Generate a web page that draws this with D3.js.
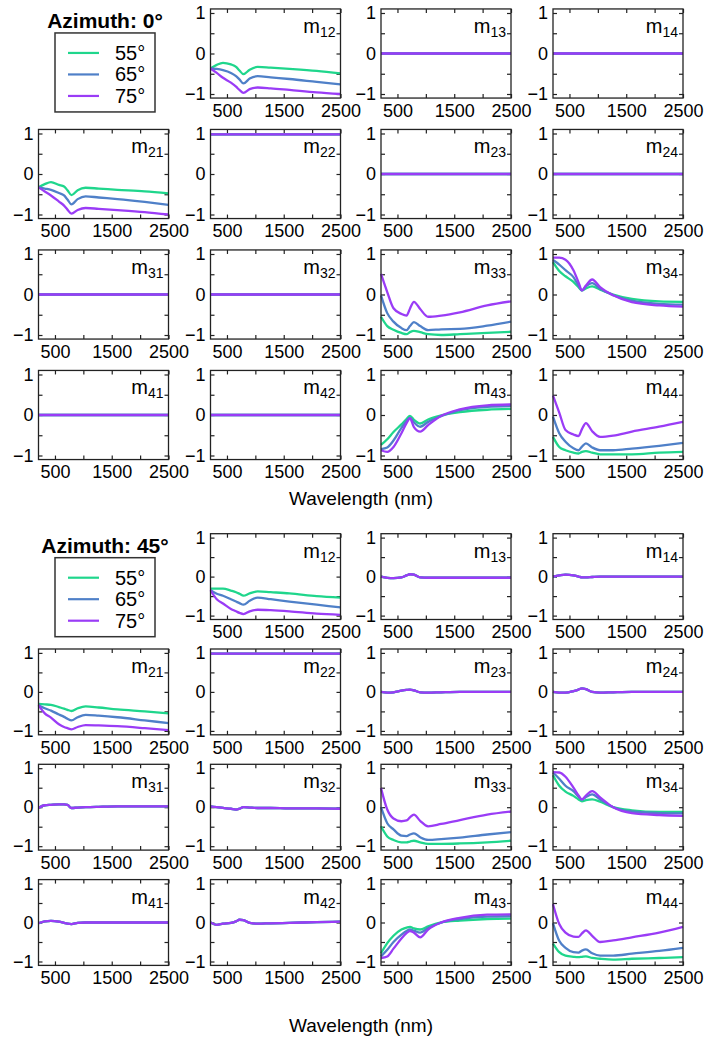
<!DOCTYPE html>
<html>
<head>
<meta charset="utf-8">
<script src="https://cdn.jsdelivr.net/npm/d3@7"></script>
<style>
  body { margin: 0; background: #fff; }
  text { font-family: "Liberation Sans", Arial, sans-serif; fill: #000; }
</style>
</head>
<body>
<svg width="711" height="1043"></svg>
<script>
const wl = [210, 320, 430, 570, 660, 720, 790, 900, 1040, 1270, 1600, 2080, 2500];
const angles = ["55°", "65°", "75°"];
const colors = ["#1fd68c", "#4f80c8", "#9a3cf6"];

const flat0 = [0, 0, 0, 0, 0, 0, 0, 0, 0, 0, 0, 0, 0];
const flat1 = [0.98, 0.98, 0.98, 0.98, 0.98, 0.98, 0.98, 0.98, 0.98, 0.98, 0.98, 0.98, 0.98];

// ---- azimuth 0 deg : [55, 65, 75] ----
const a0_m12 = [
  [-0.37, -0.28, -0.23, -0.27, -0.33, -0.42, -0.51, -0.40, -0.33, -0.35, -0.38, -0.43, -0.49],
  [-0.37, -0.38, -0.41, -0.48, -0.56, -0.64, -0.74, -0.62, -0.56, -0.59, -0.63, -0.70, -0.76],
  [-0.37, -0.48, -0.60, -0.72, -0.82, -0.90, -0.97, -0.88, -0.84, -0.86, -0.90, -0.96, -1.00]];
const a0_m21 = [
  [-0.33, -0.25, -0.20, -0.27, -0.31, -0.40, -0.52, -0.40, -0.34, -0.36, -0.39, -0.43, -0.48],
  [-0.33, -0.36, -0.39, -0.47, -0.53, -0.63, -0.75, -0.62, -0.55, -0.58, -0.62, -0.69, -0.76],
  [-0.33, -0.43, -0.53, -0.68, -0.78, -0.88, -0.98, -0.89, -0.84, -0.86, -0.89, -0.94, -1.00]];
const a0_m33 = [
  [-0.55, -0.78, -0.87, -0.95, -0.98, -0.93, -0.90, -0.93, -0.98, -1.00, -0.98, -0.95, -0.92],
  [-0.02, -0.46, -0.67, -0.83, -0.88, -0.78, -0.68, -0.78, -0.88, -0.86, -0.85, -0.77, -0.67],
  [0.51, 0.06, -0.34, -0.48, -0.52, -0.35, -0.18, -0.36, -0.55, -0.52, -0.44, -0.27, -0.17]];
const a0_m34 = [
  [0.80, 0.58, 0.45, 0.31, 0.18, 0.10, 0.15, 0.20, 0.12, 0.00, -0.11, -0.17, -0.18],
  [0.85, 0.74, 0.60, 0.43, 0.22, 0.10, 0.20, 0.28, 0.14, -0.02, -0.15, -0.23, -0.25],
  [0.91, 0.91, 0.86, 0.60, 0.30, 0.10, 0.22, 0.37, 0.18, -0.02, -0.19, -0.27, -0.30]];
const a0_m43 = [
  [-0.74, -0.60, -0.42, -0.23, -0.10, -0.02, -0.12, -0.21, -0.11, -0.01, 0.07, 0.13, 0.15],
  [-0.84, -0.80, -0.63, -0.32, -0.15, -0.07, -0.18, -0.29, -0.17, -0.03, 0.12, 0.20, 0.22],
  [-0.87, -0.91, -0.79, -0.45, -0.20, -0.08, -0.30, -0.41, -0.25, -0.02, 0.14, 0.24, 0.26]];
const a0_m44 = [
  [-0.54, -0.79, -0.87, -0.93, -0.95, -0.91, -0.89, -0.93, -0.97, -0.97, -0.97, -0.93, -0.91],
  [-0.04, -0.45, -0.66, -0.82, -0.87, -0.78, -0.70, -0.80, -0.87, -0.87, -0.83, -0.76, -0.69],
  [0.48, 0.06, -0.37, -0.48, -0.52, -0.35, -0.20, -0.40, -0.54, -0.51, -0.41, -0.29, -0.17]];

// ---- azimuth 45 deg : [55, 65, 75] ----
const a45_m12 = [
  [-0.31, -0.31, -0.31, -0.36, -0.40, -0.44, -0.49, -0.43, -0.38, -0.40, -0.43, -0.50, -0.54],
  [-0.35, -0.44, -0.49, -0.58, -0.64, -0.68, -0.72, -0.62, -0.54, -0.58, -0.64, -0.72, -0.79],
  [-0.35, -0.58, -0.69, -0.83, -0.89, -0.93, -0.96, -0.89, -0.85, -0.86, -0.89, -0.95, -0.98]];
const a45_m13 = [0.00, -0.03, -0.04, -0.02, 0.03, 0.06, 0.05, -0.02, -0.03, -0.03, -0.03, -0.03, -0.03];
const a45_m14 = [0.00, 0.03, 0.05, 0.03, 0.00, -0.02, -0.02, -0.01, 0.00, 0.00, 0.00, 0.00, 0.00];
const a45_m21 = [
  [-0.31, -0.32, -0.33, -0.39, -0.43, -0.46, -0.49, -0.42, -0.37, -0.40, -0.45, -0.50, -0.55],
  [-0.34, -0.42, -0.48, -0.58, -0.64, -0.69, -0.73, -0.65, -0.59, -0.61, -0.65, -0.73, -0.80],
  [-0.34, -0.55, -0.66, -0.83, -0.90, -0.93, -0.96, -0.90, -0.85, -0.86, -0.88, -0.93, -0.98]];
const a45_m23 = [0.00, -0.02, -0.01, 0.03, 0.05, 0.06, 0.04, -0.01, -0.02, -0.01, 0.00, 0.00, 0.00];
const a45_m24 = [0.00, -0.02, -0.02, 0.02, 0.06, 0.09, 0.07, 0.00, -0.02, -0.01, 0.00, 0.00, 0.00];
const a45_m31 = [-0.02, 0.05, 0.06, 0.07, 0.07, 0.06, -0.02, -0.01, 0.00, 0.01, 0.02, 0.02, 0.02];
const a45_m32 = [0.02, 0.00, -0.02, -0.04, -0.06, -0.04, 0.00, -0.01, -0.02, -0.02, -0.03, -0.03, -0.04];
const a45_m41 = [-0.02, 0.03, 0.04, 0.02, -0.01, -0.03, -0.04, -0.01, 0.00, 0.00, 0.00, 0.00, 0.00];
const a45_m42 = [0.00, -0.06, -0.03, -0.01, 0.03, 0.07, 0.06, -0.01, -0.03, -0.02, -0.01, 0.01, 0.02];
const a45_m33 = [
  [-0.49, -0.75, -0.84, -0.90, -0.90, -0.88, -0.86, -0.90, -0.94, -0.94, -0.93, -0.90, -0.86],
  [0.00, -0.41, -0.57, -0.73, -0.74, -0.70, -0.67, -0.77, -0.84, -0.82, -0.78, -0.70, -0.64],
  [0.49, -0.06, -0.29, -0.36, -0.34, -0.26, -0.19, -0.35, -0.49, -0.43, -0.33, -0.19, -0.11]];
const a45_m34 = [
  [0.82, 0.55, 0.40, 0.29, 0.20, 0.15, 0.18, 0.20, 0.14, 0.00, -0.08, -0.12, -0.12],
  [0.89, 0.73, 0.55, 0.41, 0.27, 0.19, 0.26, 0.33, 0.20, 0.00, -0.11, -0.15, -0.16],
  [0.90, 0.89, 0.78, 0.50, 0.30, 0.20, 0.30, 0.41, 0.25, 0.00, -0.15, -0.20, -0.22]];
const a45_m43 = [
  [-0.79, -0.53, -0.34, -0.18, -0.13, -0.11, -0.15, -0.18, -0.10, 0.00, 0.05, 0.09, 0.10],
  [-0.87, -0.70, -0.50, -0.31, -0.22, -0.18, -0.21, -0.26, -0.14, 0.00, 0.09, 0.15, 0.16],
  [-0.91, -0.87, -0.67, -0.41, -0.27, -0.22, -0.26, -0.38, -0.18, 0.00, 0.12, 0.20, 0.21]];
const a45_m44 = [
  [-0.54, -0.76, -0.85, -0.88, -0.89, -0.88, -0.87, -0.91, -0.93, -0.95, -0.93, -0.91, -0.89],
  [-0.02, -0.47, -0.65, -0.76, -0.77, -0.72, -0.69, -0.79, -0.85, -0.85, -0.80, -0.73, -0.65],
  [0.47, -0.04, -0.26, -0.36, -0.37, -0.28, -0.20, -0.34, -0.50, -0.46, -0.38, -0.26, -0.11]];

const same = a => [a, a, a];

const blocks = [
  { title: "Azimuth: 0°", zero0: 53.5, pitch: 120.5, unit: 40.5, xlabelY: 505,
    panels: {
      m12: a0_m12, m13: same(flat0), m14: same(flat0),
      m21: a0_m21, m22: same(flat1), m23: same(flat0), m24: same(flat0),
      m31: same(flat0), m32: same(flat0), m33: a0_m33, m34: a0_m34,
      m41: same(flat0), m42: same(flat0), m43: a0_m43, m44: a0_m44 } },
  { title: "Azimuth: 45°", zero0: 576.6, pitch: 115.3, unit: 39, xlabelY: 1032,
    panels: {
      m12: a45_m12, m13: same(a45_m13), m14: same(a45_m14),
      m21: a45_m21, m22: same(flat1), m23: same(a45_m23), m24: same(a45_m24),
      m31: same(a45_m31), m32: same(a45_m32), m33: a45_m33, m34: a45_m34,
      m41: same(a45_m41), m42: same(a45_m42), m43: a45_m43, m44: a45_m44 } }
];

var svg = d3.select("svg");
var colLeft = [38.5, 210.5, 381, 553], W = 130;

function drawPanel(g, name, series, H) {
  var x = d3.scaleLinear().domain([210, 2500]).range([0, W]);
  var y = d3.scaleLinear().domain([-1.1, 1.1]).range([H, 0]);

  var xb = g.append("g").attr("transform", "translate(0," + H + ")")
    .call(d3.axisBottom(x).tickValues([500, 1000, 1500, 2000, 2500]).tickSizeInner(-4).tickSizeOuter(0).tickPadding(6)
      .tickFormat(d => d % 1000 == 500 ? d : ""));
  g.append("g")
    .call(d3.axisTop(x).tickValues([500, 1000, 1500, 2000, 2500]).tickSizeInner(-4).tickSizeOuter(0).tickFormat(""));
  var yl = g.append("g")
    .call(d3.axisLeft(y).tickValues([-1, -0.5, 0, 0.5, 1]).tickSizeInner(-4).tickSizeOuter(0).tickPadding(5)
      .tickFormat(d => Number.isInteger(d) ? d3.format("d")(d) : ""));
  g.append("g").attr("transform", "translate(" + W + ",0)")
    .call(d3.axisRight(y).tickValues([-1, -0.5, 0, 0.5, 1]).tickSizeInner(-4).tickSizeOuter(0).tickFormat(""));
  g.selectAll(".domain").remove();
  g.selectAll(".tick line").attr("stroke", "#222").attr("stroke-width", 1.2);
  [xb, yl].forEach(a => a.selectAll("text").attr("font-size", 18).attr("fill", "#000")
    .attr("font-family", "Liberation Sans, Arial, sans-serif"));

  var line = d3.line().x((d, i) => x(wl[i])).y(d => y(d)).curve(d3.curveMonotoneX);
  series.forEach((s, k) => {
    g.append("path").datum(s).attr("d", line)
      .attr("fill", "none").attr("stroke", colors[k]).attr("stroke-width", 2.3).attr("stroke-linejoin", "round");
  });

  g.append("rect").attr("width", W).attr("height", H)
    .attr("fill", "none").attr("stroke", "#222").attr("stroke-width", 1.3);

  var t = g.append("text").attr("x", W - 5).attr("y", 24).attr("text-anchor", "end").attr("font-size", 20);
  t.append("tspan").text("m");
  t.append("tspan").attr("font-size", 14).attr("dy", 4).text(name.slice(1));
}

blocks.forEach(b => {
  var H = 2.2 * b.unit;
  for (var r = 0; r < 4; r++) {
    for (var c = 0; c < 4; c++) {
      if (r == 0 && c == 0) continue;
      var name = "m" + (r + 1) + (c + 1);
      var top = b.zero0 + r * b.pitch - H / 2;
      var g = svg.append("g").attr("transform", "translate(" + colLeft[c] + "," + top + ")");
      drawPanel(g, name, b.panels[name], H);
    }
  }

  // legend in the empty m11 slot
  var ltop = b.zero0 - H / 2;
  svg.append("text").attr("x", 105).attr("y", ltop + 19).attr("text-anchor", "middle")
    .attr("font-size", 21).attr("font-weight", "bold").text(b.title);
  var lg = svg.append("g").attr("transform", "translate(55," + (ltop + 24) + ")");
  lg.append("rect").attr("width", 100).attr("height", 79)
    .attr("fill", "none").attr("stroke", "#333").attr("stroke-width", 1.5);
  angles.forEach((a, k) => {
    var yy = 20 + k * 21.5;
    lg.append("line").attr("x1", 13).attr("x2", 44).attr("y1", yy).attr("y2", yy)
      .attr("stroke", colors[k]).attr("stroke-width", 2.2);
    lg.append("text").attr("x", 60).attr("y", yy + 7).attr("font-size", 20).text(a);
  });

  svg.append("text").attr("x", 361).attr("y", b.xlabelY).attr("text-anchor", "middle")
    .attr("font-size", 19).text("Wavelength (nm)");
});
</script>
</body>
</html>
